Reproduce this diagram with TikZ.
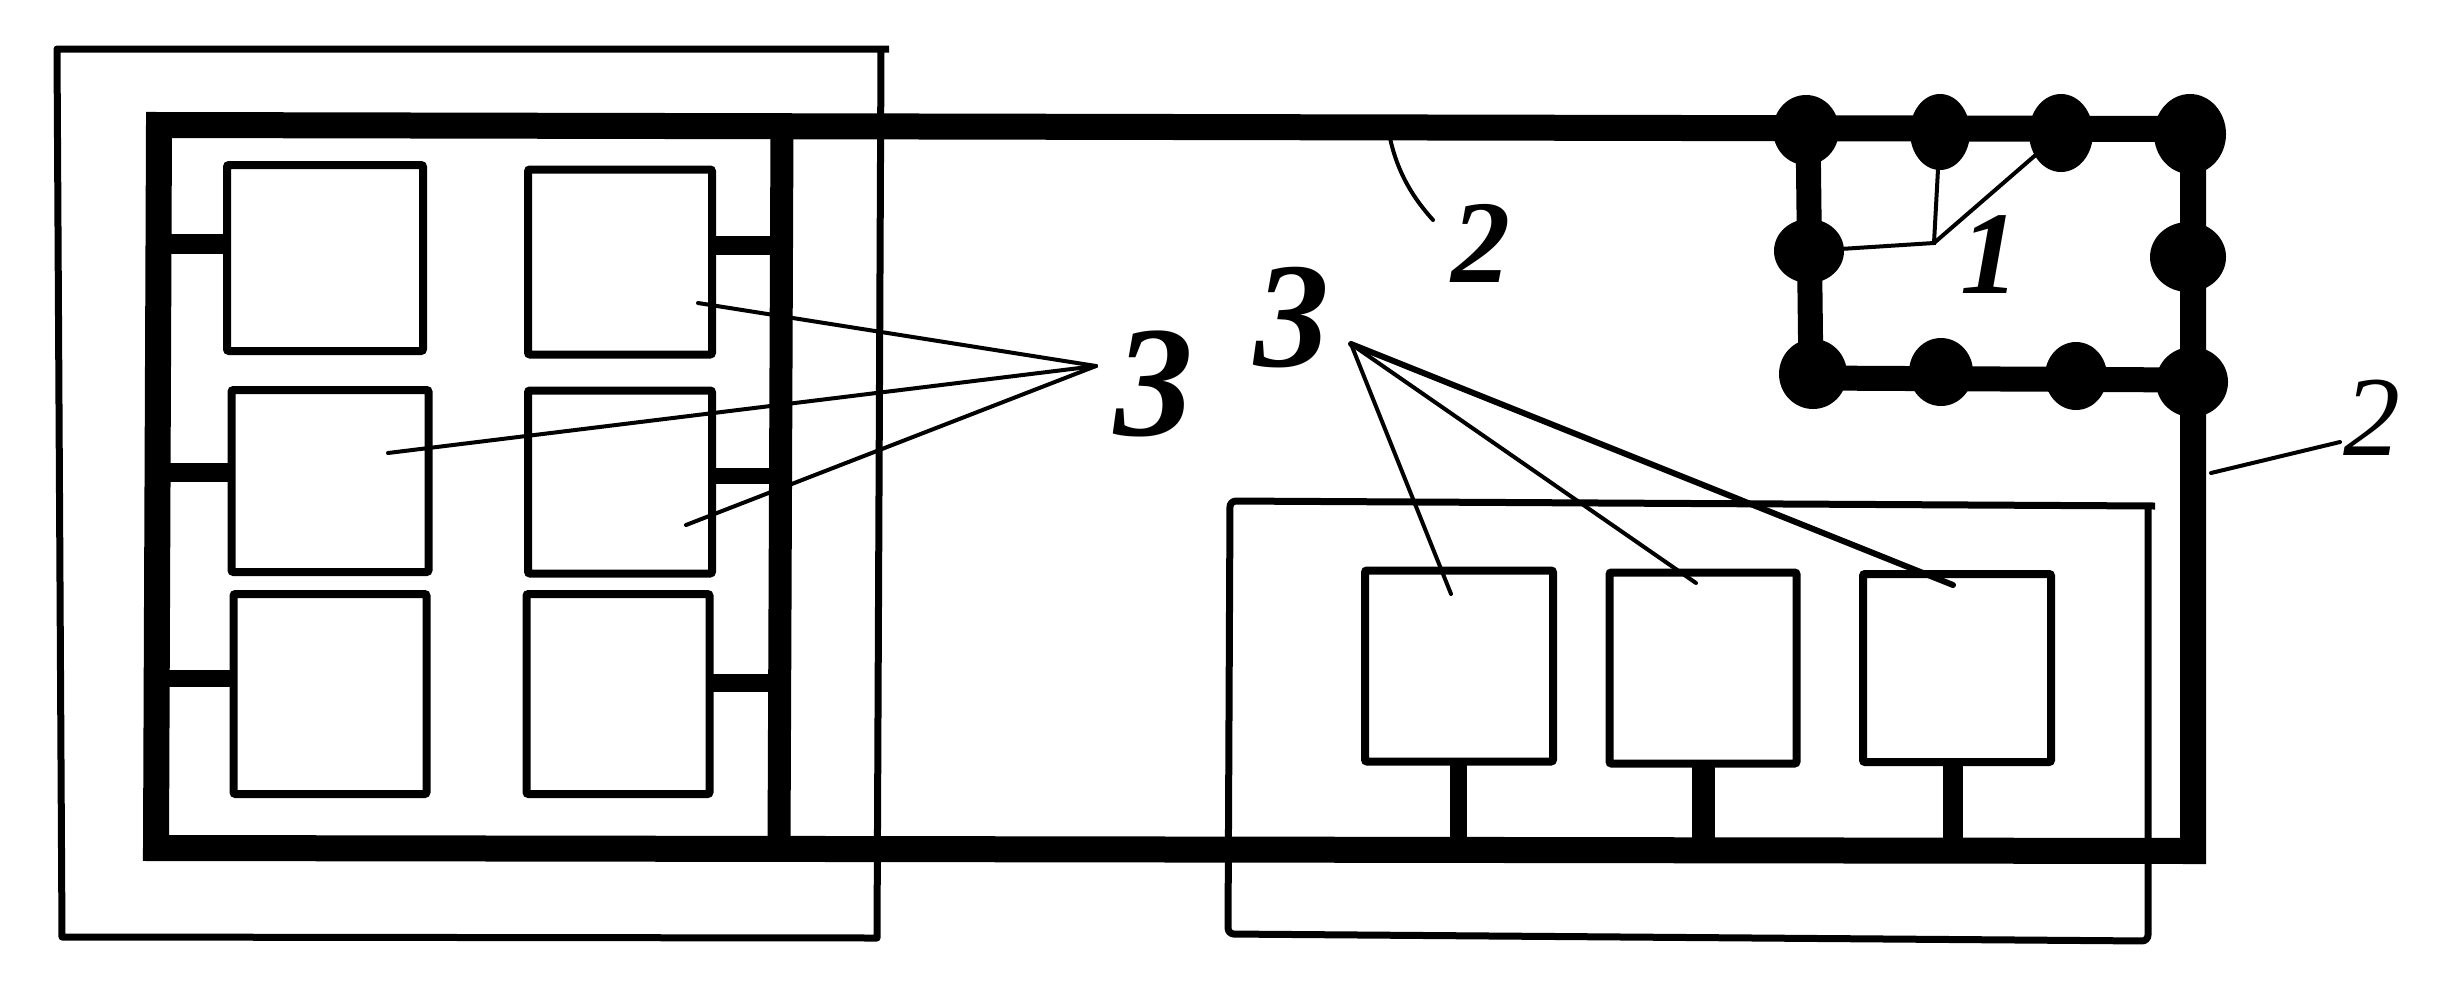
\documentclass[tikz,border=0pt]{standalone}
\usepackage{fontspec}
\setmainfont{Liberation Serif}
\usetikzlibrary{shapes.geometric}
\tikzset{
  x=1pt,y=-1pt,
  cell/.style={draw=black,line width=8pt,rectangle,inner sep=0pt,outer sep=0pt,rounded corners=2pt},
  thinframe/.style={draw=black,line width=7pt,line join=round},
  bus/.style={draw=black,line width=26pt,line cap=butt,line join=miter},
  stub/.style={draw=black,line cap=butt},
  leader/.style={draw=black,line width=4pt,line cap=round},
  blob/.style={ellipse,fill=black,draw=none,inner sep=0pt,outer sep=0pt},
  digit/.style={font=\itshape,text=black,inner sep=0pt,outer sep=0pt,anchor=center},
  heavydigit/.style={font=\bfseries\itshape,text=black,inner sep=0pt,outer sep=0pt,anchor=center}
}
\newcommand{\dsize}[1]{\fontsize{#1}{#1}\selectfont}
\begin{document}
\begin{tikzpicture}
\useasboundingbox (0,0) rectangle (2463,986);
\fill[white] (0,0) rectangle (2463,986);
% thin frames
\coordinate (fa) at (889,49);\coordinate (fb) at (57,49);\coordinate (fc) at (62,937);\coordinate (fd) at (877,938);\coordinate (fe) at (881,49);
\draw[thinframe] (fa) -- (fb) -- (fc) -- (fd) -- (fe);
\coordinate (ga) at (2155,506);\coordinate (gb) at (1230,501);\coordinate (gc) at (1228,934);\coordinate (gd) at (2148,941);\coordinate (ge) at (2148,506);
\draw[thinframe,rounded corners=6pt] (ga) -- (gb) -- (gc) -- (gd) -- (ge);
% thick network
\coordinate (tl) at (159,125);\coordinate (tr) at (2193,129);\coordinate (bl) at (156,848);\coordinate (br) at (2193,851);
\coordinate (mt) at (782,125);\coordinate (mb) at (779,848);
\draw[bus] (tl) -- (tr) -- (br) -- (bl) -- cycle;
\draw[stub,line width=23pt] (mt) -- (mb);
\coordinate (la) at (1808,128);\coordinate (lb) at (1811,378);\coordinate (lc) at (2193,380);
\draw[stub,line width=25pt] (la) -- (lb) -- (lc);
% cells
\node[cell,minimum width=196pt,minimum height=186pt] (A) at (325,258) {};
\node[cell,minimum width=184pt,minimum height=185pt] (B) at (620,262) {};
\node[cell,minimum width=197pt,minimum height=182pt] (C) at (330,481) {};
\node[cell,minimum width=184pt,minimum height=183pt] (D) at (620,482) {};
\node[cell,minimum width=193pt,minimum height=200pt] (E) at (330,694) {};
\node[cell,minimum width=183pt,minimum height=200pt] (F) at (618,694) {};
\node[cell,minimum width=188pt,minimum height=191pt] (G) at (1459,666) {};
\node[cell,minimum width=187pt,minimum height=191pt] (H) at (1703,668) {};
\node[cell,minimum width=188pt,minimum height=188pt] (I) at (1957,668) {};
% stubs
\coordinate (s1) at (160,244);\coordinate (s2) at (158,472);\coordinate (s3) at (157,678);
\coordinate (s4) at (781,245);\coordinate (s5) at (780,476);\coordinate (s6) at (780,683);
\draw[stub,line width=20pt] (s1) -- (A.west |- s1);
\draw[stub,line width=19pt] (s2) -- (C.west |- s2);
\draw[stub,line width=17pt] (s3) -- (E.west |- s3);
\draw[stub,line width=19pt] (s4) -- (B.east |- s4);
\draw[stub,line width=16pt] (s5) -- (D.east |- s5);
\draw[stub,line width=18pt] (s6) -- (F.east |- s6);
\coordinate (s7) at (1458,850);\coordinate (s8) at (1703,850);\coordinate (s9) at (1953,850);
\draw[stub,line width=17pt] (s7) -- (G.south -| s7);
\draw[stub,line width=23pt] (s8) -- (H.south -| s8);
\draw[stub,line width=20pt] (s9) -- (I.south -| s9);
% blobs
\node[blob,minimum width=66pt,minimum height=70pt] (b1) at (1806,130) {};
\node[blob,minimum width=60pt,minimum height=76pt] (b2) at (1940,132) {};
\node[blob,minimum width=64pt,minimum height=78pt] (b3) at (2061,133) {};
\node[blob,minimum width=72pt,minimum height=80pt] (b4) at (2190,134) {};
\node[blob,minimum width=70pt,minimum height=64pt] (b5) at (1809,251) {};
\node[blob,minimum width=76pt,minimum height=70pt] (b6) at (2188,257) {};
\node[blob,minimum width=68pt,minimum height=70pt] (b7) at (1813,374) {};
\node[blob,minimum width=64pt,minimum height=68pt] (b8) at (1941,372) {};
\node[blob,minimum width=62pt,minimum height=68pt] (b9) at (2076,376) {};
\node[blob,minimum width=72pt,minimum height=70pt] (b10) at (2192,382) {};
% leaders of 1
\coordinate (j) at (1934,243);
\draw[leader] (b5) -- (j) -- (b2);
\draw[leader] (j) -- (b3);
% digits
\node[heavydigit] (n1) at (1990,255) {\dsize{118}1};
\node[heavydigit] (n2) at (1481,243) {\dsize{118}2};
\node[digit] (n2b) at (2372,418) {\dsize{114}2};
\node[heavydigit] (n3a) at (1154,384) {\dsize{158}3};
\node[heavydigit] (n3b) at (1292,318) {\dsize{150}3};
% leaders
\coordinate (ap) at (1096,366);
\coordinate (pb) at (698,303);\coordinate (pc) at (388,453);\coordinate (pd) at (686,525);
\draw[leader] (ap) -- (pb);
\draw[leader] (ap) -- (pc);
\draw[leader] (ap) -- (pd);
\coordinate (aq) at (1351,344);
\coordinate (pg) at (1451,594);\coordinate (ph) at (1696,583);\coordinate (pi) at (1953,585);
\draw[leader] (aq) -- (pg);
\draw[leader] (aq) -- (ph);
\draw[leader,line width=6pt] (aq) -- (pi);
\coordinate (t2a) at (1390,138);\coordinate (t2b) at (1433,220);
\draw[leader] (t2a) .. controls (1398,175) and (1415,200) .. (t2b);
\coordinate (r2a) at (2211,473);\coordinate (r2b) at (2340,442);
\draw[leader] (r2a) -- (r2b);
\end{tikzpicture}
\end{document}
